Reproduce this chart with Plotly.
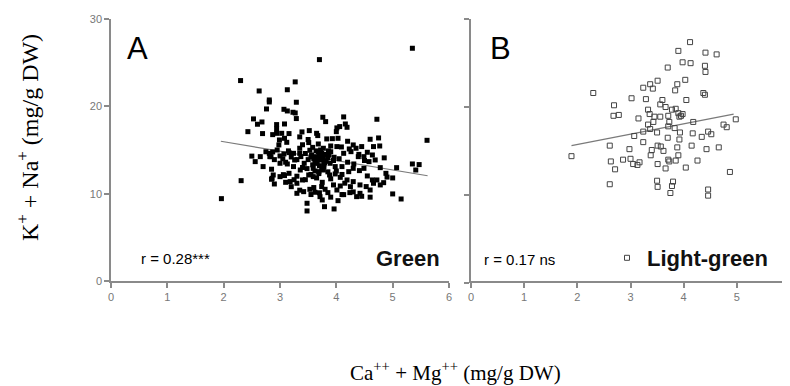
import plotly.graph_objects as go

# ---------------- data ----------------
green_x = [5.35, 3.70, 2.30, 3.27, 2.63, 3.13, 2.81, 2.81, 3.29, 2.76, 3.07, 3.13, 3.23, 3.27, 3.29, 4.72,
           3.76, 3.81, 4.13, 2.53, 2.68, 2.60, 2.43, 2.69, 2.94, 2.94, 3.08, 2.94, 2.87, 3.03, 3.16, 3.08,
           2.99, 3.12, 2.98, 3.39, 3.52, 3.65, 3.67, 4.01, 4.06, 4.16, 4.19, 4.00, 3.83, 3.93, 4.03, 5.61,
           4.75, 4.77, 4.66, 4.60, 4.30, 4.45, 4.35, 4.55, 4.64, 4.23, 4.09, 4.01, 3.90, 3.77, 3.68, 3.51,
           3.53, 3.35, 3.35, 3.24, 3.16, 3.07, 3.00, 2.87, 2.81, 2.84, 2.65, 2.56, 3.00, 3.13, 3.26, 3.37,
           3.43, 3.56, 3.64, 3.74, 3.87, 3.96, 4.13, 4.26, 4.39, 4.49, 4.58, 4.69, 4.78, 5.07, 5.35, 5.47,
           5.41, 5.00, 4.88, 4.84, 4.72, 4.66, 4.55, 4.49, 4.41, 4.31, 4.22, 4.10, 3.98, 3.89, 3.79, 3.71,
           3.62, 3.59, 3.48, 3.36, 3.24, 3.16, 3.08, 3.00, 2.88, 2.85, 2.90, 3.06, 3.18, 3.30, 3.40, 3.51,
           3.59, 3.69, 3.77, 3.88, 3.98, 4.07, 4.19, 4.30, 4.42, 4.53, 4.64, 4.78, 2.31, 1.96, 5.00, 5.15,
           3.71, 3.85, 4.01, 4.13, 4.24, 4.36, 3.30, 3.42, 3.53, 3.62, 3.74, 3.95, 4.07, 4.42, 4.60,
           3.48, 3.48, 3.79, 3.96, 4.03, 3.75, 2.82, 2.86,
           3.60, 3.65, 3.70, 3.75, 3.80, 3.70, 3.62, 3.55, 3.68, 3.78, 3.85, 3.50, 3.45, 3.58, 3.72, 3.90,
           3.95, 4.05, 3.40, 3.30, 3.20, 3.10, 3.55, 3.85, 4.00, 3.65, 3.75, 3.90, 3.45, 3.30, 4.15, 4.25,
           3.60, 3.80, 3.20, 3.10, 3.35, 3.55, 3.90, 4.10, 3.15, 2.95, 3.05, 2.75, 2.70, 2.50, 3.40, 3.50,
           4.20, 4.40, 4.50, 4.30, 4.20, 4.10, 3.35, 4.85, 4.90, 2.90, 2.85, 3.25, 3.70, 4.45, 4.60, 4.30,
           3.66, 3.72, 3.78, 3.82, 3.64, 3.58, 3.74, 3.86, 3.69, 3.77]
green_y = [26.65, 25.35, 22.95, 22.8, 21.76, 21.9, 20.73, 20.5, 20.47, 19.7, 19.66, 19.47, 19.32, 19.24, 18.6, 18.52,
           18.75, 18.25, 18.79, 18.56, 18.21, 17.95, 17.1, 16.88, 17.91, 17.41, 17.98, 16.91, 16.76, 16.91, 16.88, 16.34,
           16.15, 15.88, 15.58, 17.07, 17.22, 16.91, 16.65, 17.53, 17.68, 17.98, 17.6, 17.1, 16.27, 16.3, 16.34, 16.11,
           16.38, 15.46, 15.39, 16.23, 15.58, 15.39, 15.2, 14.74, 14.43, 15.12, 15.35, 15.39, 15.46, 15.2, 15.69, 15.85,
           14.97, 15.2, 14.62, 14.62, 14.7, 14.55, 14.32, 14.78, 14.62, 14.24, 14.24, 13.67, 13.48, 13.4, 13.86, 14.24,
           13.48, 14.43, 14.24, 14.62, 14.43, 14.17, 14.62, 14.81, 14.24, 14.24, 13.67, 13.86, 12.98, 12.98, 13.4, 13.33,
           12.71, 11.8, 12.33, 11.26, 11.57, 11.19, 12.03, 12.9, 12.64, 13.4, 12.52, 13.1, 13.1, 13.48, 13.55, 13.86,
           13.48, 12.9, 12.87, 12.71, 13.1, 12.33, 12.07, 11.95, 12.14, 11.65, 11.11, 12.18, 11.38, 11.19, 11.57, 12.14,
           11.95, 12.52, 12.71, 12.14, 12.26, 11.87, 11.57, 11.38, 11.0, 10.81, 11.57, 11.0, 11.49, 9.43, 9.97, 9.39,
           9.66, 10.12, 10.42, 9.89, 10.12, 9.66, 10.04, 10.23, 10.5, 10.16, 10.81, 11.0, 10.88, 10.04, 10.42,
           8.02, 8.9, 8.51, 8.25, 9.2, 9.28, 14.24, 11.76,
           14.0, 13.7, 14.3, 13.9, 14.5, 13.2, 12.6, 14.2, 14.8, 13.4, 14.1, 13.9, 14.6, 15.3, 15.0, 14.8,
           13.8, 14.0, 13.0, 13.9, 14.2, 13.6, 12.2, 12.5, 12.6, 11.8, 11.3, 11.7, 11.6, 12.0, 11.2, 10.8,
           10.7, 10.5, 10.8, 11.3, 10.4, 9.9, 9.6, 9.9, 14.9, 15.0, 14.0, 14.8, 13.1, 14.3, 15.6, 16.2,
           16.0, 14.5, 13.8, 12.9, 13.6, 12.2, 16.5, 14.1, 11.9, 13.9, 12.8, 11.6, 10.1, 9.7, 9.6, 10.2,
           13.5, 14.6, 13.1, 13.7, 14.9, 13.3, 12.9, 14.9, 12.3, 14.1]

light_x = [4.12, 3.90, 4.41, 4.62, 3.98, 4.13, 4.40, 3.70, 4.41, 4.03, 3.51, 3.37, 3.42, 3.88, 3.84, 3.24,
           2.30, 4.37, 4.40, 3.02, 3.29, 4.05, 3.60, 3.56, 2.69, 3.66, 3.33, 3.78, 3.85, 3.98, 3.92, 2.68,
           2.78, 3.15, 3.45, 3.56, 3.71, 3.36, 3.43, 3.73, 4.18, 4.98, 4.75, 4.81, 3.33, 3.37, 3.71, 3.83,
           3.24, 3.50, 3.07, 3.93, 4.17, 4.34, 4.46, 4.52, 3.70, 3.92, 3.24, 2.61, 3.51, 3.57, 4.15, 4.43,
           4.66, 3.88, 2.98, 3.40, 3.62, 1.89, 3.38, 3.90, 2.63, 2.86, 3.00, 3.05, 3.13, 3.17, 3.71, 3.73,
           3.85, 4.26, 3.51, 2.71, 3.66, 4.04, 4.87, 2.61, 3.50, 3.51, 3.80, 3.78, 3.75, 4.46, 4.46, 3.95, 3.90]
light_y = [27.4, 26.4, 26.2, 26.0, 25.1, 25.0, 24.7, 24.5, 24.0, 23.1, 23.0, 22.6, 22.1, 22.6, 21.9, 22.2,
           21.6, 21.6, 21.4, 21.0, 20.9, 20.8, 20.8, 20.3, 20.2, 20.0, 19.7, 19.7, 19.8, 19.2, 18.9, 19.0,
           19.1, 18.7, 18.9, 18.9, 19.0, 19.2, 18.3, 18.3, 18.3, 18.6, 18.0, 17.7, 18.0, 17.5, 17.8, 17.6,
           17.2, 17.1, 16.7, 17.1, 17.0, 16.6, 17.2, 16.9, 16.5, 16.3, 16.0, 15.6, 15.6, 15.5, 15.6, 15.2,
           15.4, 15.4, 15.2, 15.1, 15.0, 14.4, 14.5, 14.5, 13.8, 14.0, 14.1, 13.5, 13.4, 13.7, 14.0, 13.8,
           13.9, 13.9, 13.5, 12.9, 13.0, 13.1, 12.6, 11.2, 11.6, 10.9, 11.5, 11.0, 10.2, 10.6, 9.9, 19.0, 19.3]

fit_green_x = [1.95, 5.62]
fit_green_y = [16.0, 12.05]
fit_light_x = [1.89, 4.94]
fit_light_y = [15.6, 19.2]

x_ticks = [0, 1, 2, 3, 4, 5, 6]
y_ticks = [0, 10, 20, 30]

# ---------------- figure ----------------
OFF = 8                      # page body margin
W, H = 790 - OFF, 386 - OFF
def PX(x):
    return (x - OFF) / W
def PY(y):
    return 1 - (y - OFF) / H

AX = "#8a8a8a"
TICKFONT = dict(family="Liberation Sans, Arial", size=11, color="#777777")

fig = go.Figure()

fig.add_trace(go.Scatter(x=fit_green_x, y=fit_green_y, mode="lines",
                         line=dict(color="#7a7a7a", width=1.2), showlegend=False,
                         xaxis="x", yaxis="y"))
fig.add_trace(go.Scatter(x=green_x, y=green_y, mode="markers",
                         marker=dict(symbol="square", size=5, color="#000000", line=dict(width=0)),
                         showlegend=False, name="Green", xaxis="x", yaxis="y"))
fig.add_trace(go.Scatter(x=fit_light_x, y=fit_light_y, mode="lines",
                         line=dict(color="#7a7a7a", width=1.2), showlegend=False,
                         xaxis="x2", yaxis="y2"))
fig.add_trace(go.Scatter(x=light_x, y=light_y, mode="markers",
                         marker=dict(symbol="square-open", size=5, color="#444444",
                                     line=dict(width=1, color="#444444")),
                         name="<b>Light-green</b>", showlegend=True, xaxis="x2", yaxis="y2"))

def xaxis_cfg(domain, rng, labels=True):
    return dict(domain=domain, range=rng, tickvals=x_ticks, showline=True, linecolor=AX, linewidth=1.5,
                ticks="outside", ticklen=5, tickwidth=1.5, tickcolor=AX, showgrid=False, zeroline=False,
                tickfont=TICKFONT, showticklabels=labels, fixedrange=True, automargin=False)

def yaxis_cfg(domain, anchor, labels=True):
    return dict(domain=domain, range=[0, 30], tickvals=y_ticks, showline=True, linecolor=AX, linewidth=1.5,
                ticks="outside", ticklen=5, tickwidth=1.5, tickcolor=AX, showgrid=False, zeroline=False,
                tickfont=TICKFONT, showticklabels=labels, anchor=anchor, fixedrange=True, automargin=False)

fig.update_layout(
    template="none",
    width=W, height=H,
    margin=dict(l=0, r=0, t=0, b=0, pad=0, autoexpand=False),
    paper_bgcolor="white", plot_bgcolor="white",
    xaxis=xaxis_cfg([PX(111), PX(449)], [0, 6]),
    yaxis=yaxis_cfg([PY(281), PY(19)], "x"),
    xaxis2=xaxis_cfg([PX(471), 1.0], [0, 6]),
    yaxis2=yaxis_cfg([PY(282.5), PY(19.3)], "x2", labels=False),
    showlegend=True,
    legend=dict(x=PX(607), y=PY(258), xanchor="left", yanchor="middle",
                bgcolor="rgba(0,0,0,0)", borderwidth=0,
                font=dict(family="Liberation Sans, Arial", size=22, color="#111111")),
)

def A(text, x, y, size, family="Liberation Sans, Arial", xanchor="center", angle=0, color="black"):
    return dict(text=text, x=PX(x), y=PY(y), xref="paper", yref="paper", xanchor=xanchor,
                yanchor="middle", textangle=angle, showarrow=False,
                font=dict(family=family, size=size, color=color))

SERIF = "Liberation Serif, Times New Roman"
ann = [
    A("A", 137, 48.5, 31),
    A("B", 500.5, 48.5, 31),
    A("r = 0.28***", 139, 258, 15, xanchor="left"),
    A("<b>Green</b>", 442, 258, 22, xanchor="right", color="#111111"),
    A("r = 0.17 ns", 482, 259, 15, xanchor="left"),
    A("K<sup>+</sup> + Na<sup>+</sup> (mg/g DW)", 28, 138, 24, family=SERIF, angle=-90),
    A("Ca<sup>++</sup> + Mg<sup>++</sup> (mg/g DW)", 455, 371, 21, family=SERIF),
]
fig.update_layout(annotations=ann)

fig.write_html("out.html")
